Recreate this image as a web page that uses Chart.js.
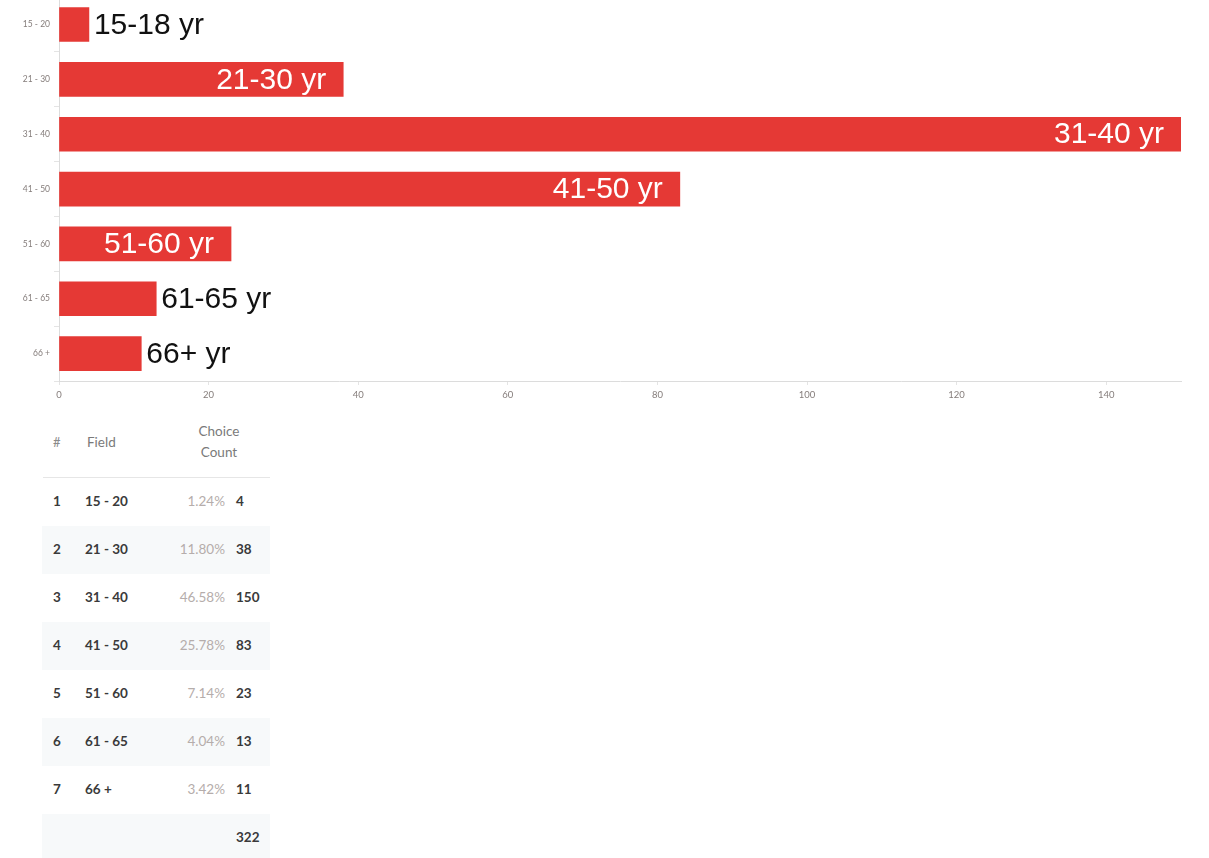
<!DOCTYPE html>
<html>
<head>
<meta charset="utf-8">
<script src="https://cdn.jsdelivr.net/npm/chart.js@4.4.0/dist/chart.umd.min.js"></script>
<style>
  html, body { margin: 0; padding: 0; background: #fff; width: 1209px; height: 858px; overflow: hidden; position: relative; }
  #wrap { position: absolute; left: 0; top: -12px; width: 1209px; height: 423px; }
  .t { position: absolute; font-family: Lato, "Open Sans", sans-serif; white-space: nowrap; }
  .band { position: absolute; left: 42px; width: 228px; height: 48px; background: #f7f9fa; }
</style>
</head>
<body>
<div id="wrap"><canvas id="c"></canvas></div>
<div id="tbl"></div>
<script>
const categories = ['15 - 20', '21 - 30', '31 - 40', '41 - 50', '51 - 60', '61 - 65', '66 +'];
const counts = [4, 38, 150, 83, 23, 13, 11];
const percents = ['1.24%', '11.80%', '46.58%', '25.78%', '7.14%', '4.04%', '3.42%'];
const barLabels = ['15-18 yr', '21-30 yr', '31-40 yr', '41-50 yr', '51-60 yr', '61-65 yr', '66+ yr'];
const labelInside = [false, true, true, true, true, false, false];
const xTicks = [0, 20, 40, 60, 80, 100, 120, 140];
const xMax = 150;
const total = 322;

const barLabelPlugin = {
  id: 'barLabels',
  afterDatasetsDraw(chart) {
    const ctx = chart.ctx;
    const meta = chart.getDatasetMeta(0);
    ctx.save();
    ctx.font = '30px "Liberation Sans", Arial, sans-serif';
    ctx.textBaseline = 'middle';
    meta.data.forEach((bar, i) => {
      if (labelInside[i]) {
        ctx.fillStyle = '#ffffff';
        ctx.textAlign = 'right';
        ctx.fillText(barLabels[i], bar.x - 17, bar.y + 1);
      } else {
        ctx.fillStyle = '#111111';
        ctx.textAlign = 'left';
        ctx.fillText(barLabels[i], bar.x + 5, bar.y + 1);
      }
    });
    ctx.restore();
  }
};

new Chart(document.getElementById('c'), {
  type: 'bar',
  data: {
    labels: categories,
    datasets: [{
      data: counts,
      backgroundColor: '#e53935',
      borderWidth: 0,
      barThickness: 34
    }]
  },
  options: {
    indexAxis: 'y',
    responsive: true,
    maintainAspectRatio: false,
    animation: false,
    layout: { padding: { left: 0, right: 28, top: 0, bottom: 0 } },
    plugins: { legend: { display: false }, tooltip: { enabled: false } },
    scales: {
      x: {
        min: 0,
        max: xMax,
        afterBuildTicks(scale) { scale.ticks = xTicks.map(v => ({ value: v })); },
        afterFit(scale) { scale.height = 30; },
        border: { display: true, color: '#dcdcdc', width: 1 },
        grid: { drawOnChartArea: false, drawTicks: true, tickLength: 4, color: '#e4e4e4' },
        ticks: { color: '#857d7b', font: { size: 9.5, family: 'Lato, "Open Sans", sans-serif' }, padding: 4, maxRotation: 0 }
      },
      y: {
        afterFit(scale) { scale.width = 59; },
        border: { display: true, color: '#dcdcdc', width: 1 },
        grid: { drawOnChartArea: false, drawTicks: true, tickLength: 5, color: '#e4e4e4', offset: true },
        ticks: { color: '#857d7b', font: { size: 8.5, family: 'Lato, "Open Sans", sans-serif' }, padding: 4 }
      }
    }
  },
  plugins: [barLabelPlugin]
});

// table
const tbl = document.getElementById('tbl');
function add(txt, css) { const d = document.createElement('div'); d.className = 't'; d.style.cssText = css; d.textContent = txt; tbl.appendChild(d); }
function band(top) { const d = document.createElement('div'); d.className = 'band'; d.style.top = top + 'px'; tbl.appendChild(d); }
const rowY0 = 503, rowStep = 48;
for (let i = 0; i <= categories.length; i++) { if (i % 2 === 1) band(rowY0 + i * rowStep - 25); }
add('#', 'left:53px; top:434px; font-size:13px; color:#8a8a8a;');
add('Field', 'left:87px; top:434px; font-size:13.5px; color:#7a7a7a;');
add('Choice', 'left:194px; top:423px; width:50px; text-align:center; font-size:13.5px; color:#7a7a7a;');
add('Count', 'left:194px; top:444px; width:50px; text-align:center; font-size:13.5px; color:#7a7a7a;');
const line = document.createElement('div');
line.style.cssText = 'position:absolute; left:43px; top:477px; width:227px; height:1px; background:#e6e6e6;';
tbl.appendChild(line);
categories.forEach((c, i) => {
  const y = rowY0 + i * rowStep - 10;
  add(String(i + 1), `left:53px; top:${y}px; font-size:13.5px; color:#3a3a3a; font-weight:bold;`);
  add(c, `left:85px; top:${y}px; font-size:13.5px; color:#3a3a3a; font-weight:bold;`);
  add(percents[i], `left:150px; width:75px; text-align:right; top:${y}px; font-size:13.5px; color:#b5adab;`);
  add(String(counts[i]), `left:236px; top:${y}px; font-size:13.5px; color:#3a3a3a; font-weight:bold;`);
});
add(String(total), `left:236px; top:${rowY0 + 7 * rowStep - 10}px; font-size:13.5px; color:#3a3a3a; font-weight:bold;`);
</script>
</body>
</html>
